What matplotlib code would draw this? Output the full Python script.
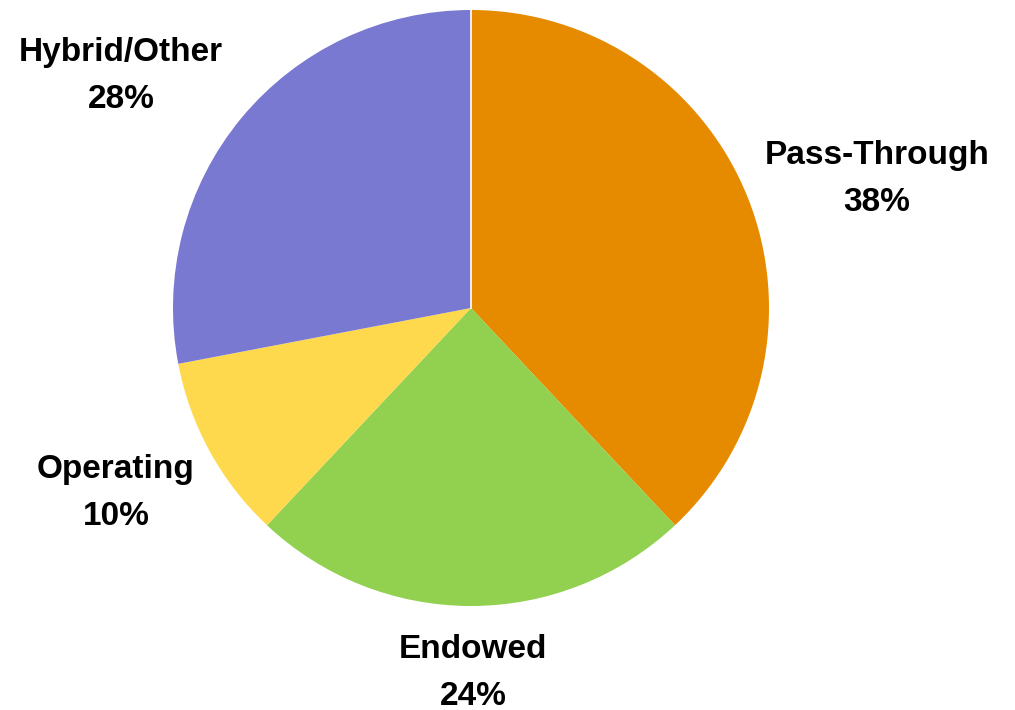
import matplotlib.pyplot as plt

# shares by foundation type
labels = ['Pass-Through', 'Endowed', 'Operating', 'Hybrid/Other']
shares = [38, 24, 10, 28]
colors = ['#E68A00', '#92D050', '#FFD94D', '#7979D1']

fig = plt.figure(figsize=(10.15, 7.1), dpi=100)
ax = fig.add_axes([0, 0, 1, 1])

cx, cy, r = 471, 402, 298
wedges, _ = ax.pie(shares, colors=colors, startangle=90, counterclock=False,
                   center=(cx, cy), radius=r, frame=True)
ax.set_xlim(0, 1015)
ax.set_ylim(0, 710)
ax.set_aspect('equal')
ax.axis('off')

# thin white seam at 12 o'clock
ax.plot([cx, cx], [cy, cy + r], color='white', lw=1.2)

# label positions (pixel space, y up)
label_pos = [(877, 531), (473, 37), (116, 217), (121, 634)]
for lab, s, (x, y) in zip(labels, shares, label_pos):
    ax.text(x, y, f'{lab}\n{s}%', ha='center', va='center', fontsize=24,
            fontweight='bold', family='Liberation Sans', linespacing=1.65)

plt.savefig('out.png', dpi=100)
